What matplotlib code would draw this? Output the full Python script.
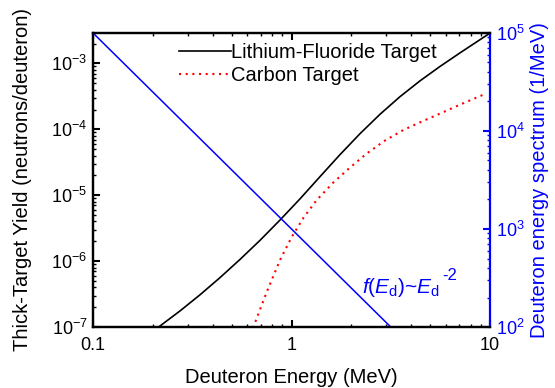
import matplotlib
matplotlib.use("Agg")
import matplotlib.pyplot as plt
from matplotlib.ticker import LogLocator, NullFormatter

plt.rcParams["font.family"] = ["Liberation Sans", "DejaVu Sans"]
plt.rcParams["mathtext.fontset"] = "custom"
plt.rcParams["mathtext.rm"] = "Liberation Sans"
plt.rcParams["mathtext.it"] = "Liberation Sans:italic"
plt.rcParams["mathtext.default"] = "regular"

# Thick-target neutron yield vs deuteron energy (MeV, neutrons/deuteron)
lif_energy = [0.1937, 0.2175, 0.2744, 0.3459, 0.4363, 0.5503, 0.6940, 0.8752,
              1.104, 1.392, 1.755, 2.214, 2.792, 3.521, 4.440, 5.600, 7.063,
              8.907, 10.0]
lif_yield = [8.02e-8, 1.036e-7, 1.755e-7, 3.08e-7, 5.62e-7, 1.061e-6, 2.068e-6,
             4.205e-6, 8.82e-6, 1.915e-5, 4.131e-5, 8.60e-5, 1.694e-4, 3.134e-4,
             5.445e-4, 9.01e-4, 1.448e-3, 2.297e-3, 2.884e-3]

carbon_energy = [0.6179, 0.6549, 0.7501, 0.8752, 1.0023, 1.1467, 1.3397, 1.6237,
                 1.9712, 2.392, 2.958, 3.658, 4.440, 5.389, 7.063, 9.546]
carbon_yield = [7.83e-8, 1.162e-7, 3.40e-7, 1.039e-6, 2.321e-6, 4.508e-6, 8.46e-6,
                1.558e-5, 2.633e-5, 4.293e-5, 6.761e-5, 9.759e-5, 1.277e-4,
                1.648e-4, 2.369e-4, 3.493e-4]

# deuteron spectrum f(E) ~ E^-2, straight line on log-log axes
spec_energy = [0.1, 3.162]
spec_flux = [1e5, 1e2]

fig = plt.figure(figsize=(5.55, 3.88), dpi=100)
ax = fig.add_axes([0.1676, 0.1572, 0.7153, 0.7578])
ax2 = ax.twinx()

ax.plot(lif_energy, lif_yield, color="black", lw=1.2, label="Lithium-Fluoride Target")
ax.plot(carbon_energy, carbon_yield, color="red", lw=1.5, ls=(0, (1, 2.2)),
        label="Carbon Target")
ax2.plot(spec_energy, spec_flux, color="blue", lw=1.1)

ax.set_xscale("log")
ax.set_yscale("log")
ax2.set_yscale("log")
ax.set_xlim(0.1, 10)
ax.set_ylim(1e-7, 2.9e-3)
ax2.set_ylim(1e2, 1e5)

for a in (ax, ax2):
    a.yaxis.set_minor_locator(LogLocator(base=10, subs=range(2, 10), numticks=20))
    a.yaxis.set_minor_formatter(NullFormatter())
ax.xaxis.set_minor_locator(LogLocator(base=10, subs=range(2, 10), numticks=20))
ax.xaxis.set_minor_formatter(NullFormatter())
ax.set_xticks([0.1, 1, 10])
ax.set_xticklabels(["0.1", "1", "10"])

ax.tick_params(axis="x", which="both", direction="in", top=True, labelsize=13, pad=7)
ax.tick_params(axis="x", which="major", length=5, width=1.5)
ax.tick_params(axis="x", which="minor", length=2.5, width=1)
ax.tick_params(axis="y", which="both", direction="in", labelsize=13, pad=4)
ax.tick_params(axis="y", which="major", length=5, width=1.5)
ax.tick_params(axis="y", which="minor", length=2.5, width=1)
ax2.tick_params(axis="y", which="both", direction="in", colors="blue", labelsize=13, pad=4)
ax2.tick_params(axis="y", which="major", length=5, width=1.5)
ax2.tick_params(axis="y", which="minor", length=2.5, width=1)

for s in ("left", "bottom", "top"):
    ax.spines[s].set_linewidth(1.6)
    ax2.spines[s].set_linewidth(1.6)
ax2.spines["right"].set_color("blue")
ax2.spines["right"].set_linewidth(1.6)
ax.spines["right"].set_visible(False)

ax.set_xlabel("Deuteron Energy (MeV)", fontsize=14.5, labelpad=10)
ax.set_ylabel("Thick-Target Yield (neutrons/deuteron)", fontsize=14.5, labelpad=14)
ax2.set_ylabel("Deuteron energy spectrum (1/MeV)", fontsize=14.5, color="blue", labelpad=4)

ax.legend(loc="upper left", bbox_to_anchor=(0.18, 1.015), frameon=False, fontsize=14.5,
          handlelength=2.6, handletextpad=0.0, labelspacing=0.22, borderaxespad=0.3)

# spectrum label with a full-size raised exponent
lbl = ax2.text(0.678, 0.116, r"$\it{f}$($\it{E}_{\rm d}$)~$\it{E}_{\rm d}$",
               transform=ax2.transAxes, color="blue", fontsize=15, va="baseline")
ax2.annotate("-2", xy=(1.0, 0.116), xycoords=(lbl, ax2.transAxes), xytext=(1.5, 9),
             textcoords="offset points", color="blue", fontsize=12, va="baseline")

fig.savefig("out.png", dpi=100)
